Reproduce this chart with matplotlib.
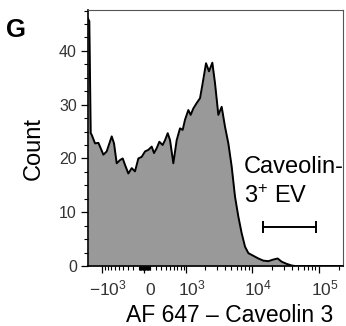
import matplotlib
matplotlib.use("Agg")
import matplotlib.pyplot as plt
from matplotlib.ticker import FixedLocator, NullFormatter
from matplotlib.transforms import ScaledTranslation

plt.rcParams["font.family"] = ["Liberation Sans", "DejaVu Sans"]
plt.rcParams["mathtext.fontset"] = "custom"
plt.rcParams["mathtext.rm"] = "Liberation Sans"
plt.rcParams["mathtext.it"] = "Liberation Sans"
plt.rcParams["mathtext.bf"] = "Liberation Sans:bold"

# histogram: fluorescence (AF 647) vs event count
fluor = [-1700, -1620, -1541, -1487, -1316, -1163, -1092, -962, -844, -686,
         -621, -550, -468, -407, -357, -289, -224, -163, -103, -45,
         12, 70, 128, 170, 219, 270, 337, 387, 447, 502,
         586, 679, 780, 868, 952, 1081, 1181, 1303, 1473, 1661,
         1827, 2057, 2286, 2569, 2821, 3169, 3559, 3994, 4485, 5030,
         5645, 6330, 7100, 7970, 8940, 10620, 12620, 14990, 17790, 21130,
         24530, 28150, 33420, 39700, 44520, 232000]
count = [46.0, 45.5, 24.7, 24.4, 22.8, 22.9, 22.2, 20.7, 21.3, 24.1,
         22.8, 19.1, 19.7, 20.0, 18.8, 17.2, 18.2, 17.6, 20.0, 20.3,
         21.3, 21.6, 22.2, 21.0, 21.9, 23.1, 22.5, 23.4, 24.7, 23.4,
         19.1, 23.4, 25.6, 25.3, 27.2, 29.0, 28.1, 29.3, 30.3, 31.2,
         34.0, 37.7, 36.2, 37.8, 34.0, 28.1, 29.6, 25.9, 22.8, 18.5,
         12.9, 9.2, 6.1, 3.6, 2.4, 1.9, 1.4, 1.0, 0.9, 1.2,
         1.4, 0.8, 0.4, 0.1, 0.0, 0.0]

gate_x = [15000, 92000]
gate_y = 7.3

x_major = [-1000, 0, 1000, 10000, 100000]
x_major_labels = ["$-10^3$", "0", "$10^3$", "$10^4$", "$10^5$"]
x_minor = ([-k * 100 for k in range(2, 10)] + [-k * 10 for k in range(1, 10)]
           + [k * 10 for k in range(1, 10)] + [k * 100 for k in range(1, 10)]
           + [k * 1000 for k in range(2, 10)] + [k * 10000 for k in range(2, 10)]
           + [200000])
y_major = [0, 10, 20, 30, 40]
y_minor = [2.5, 5, 7.5, 12.5, 15, 17.5, 22.5, 25, 27.5, 32.5, 35, 37.5,
           42.5, 45, 47.5]


def main():
    fig = plt.figure(figsize=(3.46, 3.26), dpi=100)
    ax = fig.add_axes([0.2543, 0.184, 0.737, 0.7853])

    ax.set_xscale("asinh", linear_width=500)
    ax.fill_between(fluor, count, 0, color="#999999", lw=0)
    ax.plot(fluor, count, color="black", lw=1.4, solid_joinstyle="round")

    # gate bar
    ax.plot(gate_x, [gate_y, gate_y], color="black", lw=1.4,
            marker="|", markersize=8, markeredgewidth=1.4)

    ax.set_xlim(-1700, 232000)
    ax.set_ylim(0, 47.6)

    ax.xaxis.set_major_locator(FixedLocator(x_major))
    ax.xaxis.set_minor_locator(FixedLocator(x_minor))
    ax.xaxis.set_minor_formatter(NullFormatter())
    ax.set_xticklabels(x_major_labels)
    ax.yaxis.set_major_locator(FixedLocator(y_major))
    ax.yaxis.set_minor_locator(FixedLocator(y_minor))

    ax.tick_params(axis="both", which="major", direction="out", length=5,
                   width=0.9, labelcolor="#333333", pad=3)
    ax.tick_params(axis="x", which="major", labelsize=12.5, pad=2.5)
    ax.tick_params(axis="y", which="major", labelsize=11.5)
    ax.tick_params(axis="both", which="minor", direction="out", length=3,
                   width=0.8)
    # put all x labels on one baseline, nudged right like the original
    shift = ScaledTranslation(0.06, -0.186, fig.dpi_scale_trans)
    for lab in ax.get_xticklabels():
        lab.set_verticalalignment("baseline")
        lab.set_transform(lab.get_transform() + shift)

    for side in ("left", "bottom"):
        ax.spines[side].set_linewidth(1.2)
        ax.spines[side].set_color("black")
    for side in ("top", "right"):
        ax.spines[side].set_linewidth(0.8)
        ax.spines[side].set_color("#555555")

    ax.set_xlabel("AF 647 \u2013 Caveolin 3", fontsize=16.5)
    ax.xaxis.set_label_coords(0.557, -0.148)
    ax.set_ylabel("Count", fontsize=17)
    ax.yaxis.set_label_coords(-0.17, 0.46)

    ax.text(0.612, 0.363, "Caveolin-", transform=ax.transAxes, fontsize=17,
            va="baseline", ha="left", clip_on=False)
    ax.text(0.612, 0.247, "3$^{+}$ EV", transform=ax.transAxes, fontsize=17,
            va="baseline", ha="left", clip_on=False)

    fig.text(0.018, 0.888, "G", fontsize=18.5, fontweight="bold",
             va="baseline", ha="left")

    fig.savefig("out.png", dpi=100)


if __name__ == "__main__":
    main()
